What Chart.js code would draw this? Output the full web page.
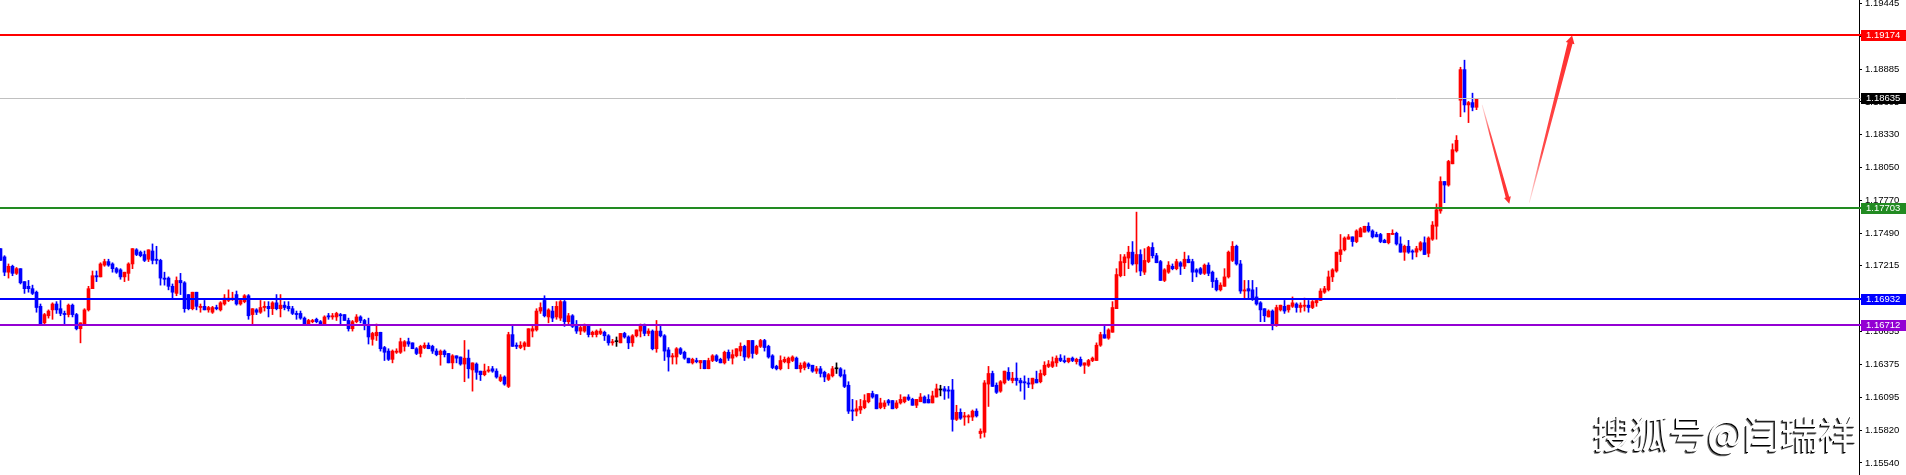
<!DOCTYPE html>
<html><head><meta charset="utf-8">
<script src="https://cdn.jsdelivr.net/npm/chart.js@4.4.0/dist/chart.umd.min.js"></script>
<style>
html,body{margin:0;padding:0;background:#fff;width:1906px;height:475px;overflow:hidden;}
#wrap{position:relative;width:1906px;height:475px;}
canvas{display:block;}
#wm{position:absolute;left:1593px;top:413px;font-family:"Noto Sans CJK SC";font-size:38px;line-height:1;color:#fff;white-space:nowrap;
text-shadow:-1px 1px 0 #000,-2px 2px 0 rgba(0,0,0,0.55);}
</style></head><body>
<div id="wrap"><canvas id="c" width="1906" height="475"></canvas><div id="wm">搜狐号@闫瑞祥</div></div>
<script>
// EURUSD candles (oldest -> newest)
const opens = [
1.1736,1.1729,1.1716,1.1721,1.1715,1.1719,1.1708,1.1704,1.1702,1.1699,
1.1687,1.1673,1.1679,1.1684,1.1689,1.1685,1.1681,1.1680,1.1688,1.1680,
1.1668,1.1672,1.1684,1.1702,1.1713,1.1712,1.1722,1.1725,1.1723,1.1719,
1.1718,1.1712,1.1715,1.1723,1.1735,1.1733,1.1731,1.1727,1.1734,1.1727,
1.1726,1.1711,1.1711,1.1704,1.1698,1.1709,1.1707,1.1697,1.1685,1.1699,
1.1686,1.1687,1.1684,1.1682,1.1686,1.1684,1.1689,1.1692,1.1693,1.1697,
1.1689,1.1691,1.1696,1.1680,1.1684,1.1682,1.1686,1.1687,1.1685,1.1690,
1.1685,1.1688,1.1687,1.1685,1.1681,1.1681,1.1677,1.1671,1.1674,1.1676,
1.1674,1.1672,1.1679,1.1678,1.1678,1.1680,1.1680,1.1675,1.1668,1.1674,
1.1678,1.1675,1.1671,1.1659,1.1662,1.1665,1.1652,1.1649,1.1642,1.1648,
1.1648,1.1653,1.1657,1.1656,1.1651,1.1647,1.1652,1.1654,1.1653,1.1649,
1.1646,1.1649,1.1647,1.1639,1.1645,1.1644,1.1638,1.1643,1.1633,1.1638,
1.1632,1.1629,1.1632,1.1634,1.1632,1.1624,1.1627,1.1619,1.1663,1.1654,
1.1652,1.1653,1.1653,1.1666,1.1667,1.1683,1.1692,1.1678,1.1683,1.1678,
1.1677,1.1691,1.1674,1.1679,1.1670,1.1666,1.1666,1.1670,1.1663,1.1663,
1.1664,1.1665,1.1662,1.1656,1.1657,1.1656,1.1664,1.1661,1.1656,1.1662,
1.1666,1.1670,1.1664,1.1666,1.1651,1.1666,1.1662,1.1650,1.1644,1.1644,
1.1651,1.1648,1.1643,1.1639,1.1641,1.1639,1.1641,1.1634,1.1641,1.1645,
1.1642,1.1639,1.1648,1.1643,1.1645,1.1649,1.1653,1.1644,1.1658,1.1647,
1.1653,1.1658,1.1653,1.1645,1.1636,1.1634,1.1640,1.1639,1.1641,1.1643,
1.1634,1.1635,1.1638,1.1637,1.1632,1.1634,1.1631,1.1625,1.1628,1.1634,
1.1634,1.1629,1.1620,1.1599,1.1598,1.1599,1.1601,1.1606,1.1613,1.1612,
1.1601,1.1602,1.1607,1.1607,1.1601,1.1605,1.1606,1.1610,1.1608,1.1603,
1.1606,1.1610,1.1608,1.1605,1.1610,1.1616,1.1617,1.1616,1.1616,1.1591,
1.1597,1.1593,1.1593,1.1593,1.1598,1.1579,1.1580,1.1621,1.1630,1.1620,
1.1615,1.1622,1.1631,1.1624,1.1626,1.1624,1.1623,1.1622,1.1621,1.1625,
1.1623,1.1629,1.1636,1.1636,1.1639,1.1643,1.1641,1.1640,1.1643,1.1640,
1.1642,1.1637,1.1637,1.1641,1.1641,1.1654,1.1663,1.1660,1.1665,1.1685,
1.1713,1.1724,1.1728,1.1733,1.1723,1.1731,1.1716,1.1725,1.1737,1.1730,
1.1725,1.1709,1.1716,1.1721,1.1719,1.1724,1.1721,1.1727,1.1725,1.1718,
1.1719,1.1715,1.1722,1.1716,1.1709,1.1701,1.1704,1.1712,1.1726,1.1738,
1.1723,1.1700,1.1702,1.1701,1.1695,1.1690,1.1685,1.1678,1.1683,1.1671,
1.1684,1.1687,1.1684,1.1687,1.1689,1.1686,1.1687,1.1688,1.1686,1.1690,
1.1692,1.1699,1.1701,1.1712,1.1717,1.1731,1.1735,1.1744,1.1746,1.1742,
1.1746,1.1750,1.1755,1.1751,1.1748,1.1748,1.1743,1.1741,1.1748,1.1749,
1.1740,1.1733,1.1738,1.1734,1.1733,1.1735,1.1741,1.1732,1.1744,1.1755,
1.1768,1.1793,1.1790,1.1808,1.1819,1.1862,1.1888,1.1858,1.1860,1.1856
];
const highs = [
1.1736,1.1730,1.1723,1.1722,1.1720,1.1719,1.1708,1.1709,1.1705,1.1700,
1.1689,1.1681,1.1684,1.1690,1.1691,1.1692,1.1683,1.1689,1.1689,1.1681,
1.1673,1.1685,1.1704,1.1717,1.1717,1.1724,1.1727,1.1727,1.1724,1.1720,
1.1719,1.1716,1.1724,1.1736,1.1736,1.1734,1.1734,1.1735,1.1740,1.1738,
1.1727,1.1716,1.1712,1.1706,1.1712,1.1715,1.1708,1.1697,1.1699,1.1699,
1.1689,1.1692,1.1687,1.1687,1.1688,1.1691,1.1697,1.1701,1.1699,1.1700,
1.1692,1.1697,1.1697,1.1685,1.1685,1.1692,1.1691,1.1691,1.1691,1.1697,
1.1697,1.1691,1.1691,1.1687,1.1683,1.1683,1.1678,1.1676,1.1676,1.1677,
1.1675,1.1679,1.1681,1.1681,1.1682,1.1681,1.1680,1.1677,1.1675,1.1680,
1.1679,1.1676,1.1677,1.1665,1.1672,1.1665,1.1653,1.1651,1.1650,1.1651,
1.1660,1.1658,1.1660,1.1656,1.1652,1.1654,1.1656,1.1656,1.1654,1.1651,
1.1650,1.1650,1.1647,1.1646,1.1645,1.1644,1.1658,1.1650,1.1639,1.1639,
1.1632,1.1638,1.1636,1.1636,1.1634,1.1629,1.1628,1.1665,1.1670,1.1656,
1.1657,1.1657,1.1668,1.1670,1.1685,1.1690,1.1696,1.1685,1.1687,1.1691,
1.1692,1.1692,1.1681,1.1680,1.1675,1.1670,1.1672,1.1670,1.1666,1.1667,
1.1668,1.1666,1.1663,1.1659,1.1661,1.1664,1.1665,1.1662,1.1663,1.1667,
1.1672,1.1672,1.1668,1.1667,1.1675,1.1670,1.1663,1.1652,1.1647,1.1652,
1.1652,1.1649,1.1643,1.1643,1.1643,1.1641,1.1641,1.1643,1.1646,1.1646,
1.1643,1.1649,1.1650,1.1650,1.1651,1.1656,1.1654,1.1658,1.1658,1.1654,
1.1659,1.1659,1.1654,1.1646,1.1637,1.1645,1.1644,1.1644,1.1645,1.1644,
1.1639,1.1640,1.1639,1.1637,1.1636,1.1636,1.1632,1.1630,1.1636,1.1639,
1.1635,1.1633,1.1623,1.1608,1.1607,1.1608,1.1612,1.1613,1.1615,1.1612,
1.1609,1.1607,1.1608,1.1607,1.1607,1.1612,1.1610,1.1612,1.1609,1.1608,
1.1613,1.1611,1.1612,1.1615,1.1621,1.1620,1.1619,1.1619,1.1625,1.1603,
1.1600,1.1597,1.1595,1.1599,1.1600,1.1583,1.1624,1.1636,1.1632,1.1622,
1.1624,1.1632,1.1635,1.1631,1.1639,1.1626,1.1628,1.1626,1.1626,1.1632,
1.1633,1.1640,1.1641,1.1644,1.1645,1.1646,1.1645,1.1643,1.1644,1.1643,
1.1644,1.1639,1.1642,1.1644,1.1656,1.1665,1.1670,1.1668,1.1691,1.1719,
1.1731,1.1731,1.1738,1.1742,1.1767,1.1735,1.1736,1.1738,1.1741,1.1732,
1.1726,1.1719,1.1725,1.1723,1.1727,1.1725,1.1733,1.1730,1.1727,1.1719,
1.1720,1.1723,1.1724,1.1717,1.1711,1.1707,1.1719,1.1734,1.1742,1.1739,
1.1726,1.1709,1.1709,1.1709,1.1703,1.1691,1.1685,1.1684,1.1684,1.1688,
1.1688,1.1692,1.1688,1.1695,1.1690,1.1690,1.1694,1.1692,1.1692,1.1693,
1.1702,1.1704,1.1717,1.1719,1.1733,1.1748,1.1746,1.1748,1.1746,1.1752,
1.1754,1.1755,1.1758,1.1752,1.1750,1.1749,1.1744,1.1749,1.1752,1.1750,
1.1746,1.1739,1.1743,1.1735,1.1738,1.1742,1.1746,1.1746,1.1759,1.1774,
1.1797,1.1793,1.1811,1.1825,1.1832,1.1890,1.1896,1.1861,1.1868,1.1863
];
const lows = [
1.1726,1.1713,1.1711,1.1713,1.1714,1.1706,1.1698,1.1699,1.1697,1.1682,
1.1671,1.1671,1.1677,1.1676,1.1681,1.1679,1.1671,1.1678,1.1678,1.1667,
1.1656,1.1671,1.1683,1.1702,1.1708,1.1712,1.1721,1.1721,1.1716,1.1715,
1.1710,1.1708,1.1709,1.1719,1.1730,1.1729,1.1725,1.1725,1.1723,1.1723,
1.1705,1.1705,1.1701,1.1694,1.1696,1.1697,1.1682,1.1684,1.1684,1.1684,
1.1682,1.1684,1.1682,1.1681,1.1684,1.1683,1.1688,1.1691,1.1692,1.1688,
1.1688,1.1690,1.1676,1.1671,1.1680,1.1681,1.1683,1.1678,1.1680,1.1684,
1.1678,1.1684,1.1683,1.1680,1.1676,1.1676,1.1671,1.1671,1.1673,1.1673,
1.1671,1.1671,1.1676,1.1676,1.1675,1.1672,1.1675,1.1666,1.1666,1.1673,
1.1673,1.1667,1.1655,1.1654,1.1658,1.1649,1.1641,1.1641,1.1639,1.1647,
1.1647,1.1649,1.1653,1.1651,1.1646,1.1644,1.1651,1.1651,1.1647,1.1645,
1.1637,1.1644,1.1639,1.1634,1.1639,1.1637,1.1623,1.1626,1.1615,1.1625,
1.1624,1.1628,1.1631,1.1631,1.1626,1.1623,1.1620,1.1618,1.1653,1.1651,
1.1651,1.1650,1.1653,1.1661,1.1666,1.1681,1.1678,1.1673,1.1674,1.1676,
1.1675,1.1670,1.1671,1.1669,1.1664,1.1663,1.1665,1.1661,1.1661,1.1661,
1.1663,1.1658,1.1654,1.1654,1.1653,1.1656,1.1660,1.1651,1.1653,1.1661,
1.1661,1.1662,1.1662,1.1650,1.1648,1.1661,1.1641,1.1632,1.1638,1.1638,
1.1646,1.1642,1.1639,1.1638,1.1639,1.1634,1.1634,1.1634,1.1640,1.1640,
1.1639,1.1638,1.1641,1.1638,1.1644,1.1645,1.1641,1.1643,1.1643,1.1646,
1.1652,1.1649,1.1643,1.1634,1.1633,1.1633,1.1639,1.1634,1.1640,1.1634,
1.1631,1.1633,1.1634,1.1631,1.1630,1.1627,1.1623,1.1624,1.1627,1.1630,
1.1627,1.1618,1.1596,1.1590,1.1594,1.1596,1.1600,1.1605,1.1609,1.1600,
1.1600,1.1600,1.1603,1.1600,1.1600,1.1604,1.1605,1.1607,1.1603,1.1601,
1.1606,1.1605,1.1605,1.1605,1.1610,1.1611,1.1608,1.1609,1.1581,1.1590,
1.1591,1.1586,1.1588,1.1590,1.1593,1.1575,1.1576,1.1602,1.1619,1.1613,
1.1614,1.1621,1.1624,1.1622,1.1620,1.1615,1.1608,1.1618,1.1617,1.1622,
1.1622,1.1628,1.1635,1.1635,1.1636,1.1640,1.1639,1.1639,1.1640,1.1638,
1.1636,1.1630,1.1636,1.1640,1.1641,1.1653,1.1660,1.1659,1.1665,1.1685,
1.1712,1.1713,1.1719,1.1722,1.1716,1.1713,1.1714,1.1724,1.1728,1.1724,
1.1709,1.1708,1.1715,1.1718,1.1718,1.1714,1.1719,1.1724,1.1708,1.1712,
1.1714,1.1714,1.1713,1.1703,1.1700,1.1700,1.1704,1.1711,1.1725,1.1722,
1.1698,1.1693,1.1694,1.1692,1.1688,1.1674,1.1674,1.1678,1.1667,1.1670,
1.1683,1.1681,1.1682,1.1686,1.1682,1.1682,1.1683,1.1682,1.1685,1.1687,
1.1692,1.1698,1.1700,1.1708,1.1716,1.1725,1.1734,1.1744,1.1738,1.1741,
1.1746,1.1750,1.1750,1.1745,1.1746,1.1741,1.1741,1.1740,1.1748,1.1739,
1.1733,1.1726,1.1732,1.1727,1.1729,1.1734,1.1731,1.1729,1.1743,1.1744,
1.1766,1.1775,1.1789,1.1808,1.1818,1.1848,1.1852,1.1843,1.1853,1.1854
];
const closes = [
1.1726,1.1716,1.1721,1.1715,1.1719,1.1707,1.1702,1.1702,1.1698,1.1686,
1.1672,1.1680,1.1683,1.1689,1.1684,1.1681,1.1680,1.1688,1.1680,1.1668,
1.1673,1.1684,1.1702,1.1713,1.1712,1.1723,1.1725,1.1722,1.1719,1.1716,
1.1712,1.1716,1.1723,1.1736,1.1731,1.1730,1.1726,1.1735,1.1726,1.1726,
1.1711,1.1710,1.1704,1.1699,1.1709,1.1707,1.1685,1.1685,1.1699,1.1687,
1.1687,1.1684,1.1686,1.1686,1.1685,1.1690,1.1694,1.1694,1.1694,1.1689,
1.1692,1.1696,1.1679,1.1685,1.1682,1.1686,1.1687,1.1685,1.1690,1.1685,
1.1688,1.1686,1.1685,1.1681,1.1680,1.1677,1.1671,1.1675,1.1675,1.1674,
1.1672,1.1678,1.1678,1.1679,1.1681,1.1679,1.1675,1.1668,1.1674,1.1678,
1.1675,1.1671,1.1661,1.1664,1.1665,1.1651,1.1648,1.1642,1.1649,1.1649,
1.1657,1.1657,1.1655,1.1651,1.1647,1.1653,1.1654,1.1651,1.1649,1.1646,
1.1649,1.1646,1.1639,1.1645,1.1643,1.1638,1.1643,1.1634,1.1639,1.1631,
1.1629,1.1632,1.1633,1.1632,1.1627,1.1627,1.1621,1.1663,1.1653,1.1653,
1.1654,1.1656,1.1668,1.1668,1.1683,1.1686,1.1679,1.1684,1.1677,1.1687,
1.1691,1.1674,1.1679,1.1670,1.1666,1.1669,1.1670,1.1663,1.1665,1.1666,
1.1666,1.1662,1.1656,1.1657,1.1657,1.1664,1.1661,1.1656,1.1662,1.1667,
1.1670,1.1664,1.1666,1.1651,1.1666,1.1662,1.1649,1.1644,1.1645,1.1651,
1.1647,1.1643,1.1639,1.1642,1.1640,1.1641,1.1634,1.1641,1.1645,1.1641,
1.1639,1.1648,1.1643,1.1646,1.1651,1.1653,1.1644,1.1658,1.1647,1.1653,
1.1658,1.1652,1.1644,1.1635,1.1634,1.1641,1.1642,1.1643,1.1644,1.1634,
1.1637,1.1639,1.1636,1.1632,1.1634,1.1630,1.1627,1.1629,1.1634,1.1634,
1.1628,1.1619,1.1598,1.1598,1.1600,1.1602,1.1607,1.1613,1.1610,1.1600,
1.1605,1.1605,1.1605,1.1600,1.1605,1.1608,1.1610,1.1608,1.1603,1.1608,
1.1610,1.1605,1.1605,1.1611,1.1617,1.1616,1.1615,1.1615,1.1591,1.1597,
1.1592,1.1594,1.1594,1.1598,1.1594,1.1581,1.1622,1.1630,1.1619,1.1614,
1.1623,1.1632,1.1625,1.1626,1.1624,1.1622,1.1622,1.1621,1.1626,1.1622,
1.1630,1.1637,1.1638,1.1640,1.1643,1.1641,1.1640,1.1643,1.1641,1.1642,
1.1637,1.1639,1.1641,1.1643,1.1654,1.1663,1.1660,1.1667,1.1686,1.1714,
1.1725,1.1729,1.1733,1.1723,1.1731,1.1717,1.1726,1.1737,1.1730,1.1724,
1.1709,1.1718,1.1722,1.1719,1.1725,1.1721,1.1727,1.1724,1.1716,1.1716,
1.1715,1.1722,1.1715,1.1708,1.1701,1.1705,1.1712,1.1733,1.1738,1.1723,
1.1700,1.1701,1.1700,1.1693,1.1689,1.1684,1.1679,1.1683,1.1671,1.1686,
1.1688,1.1683,1.1688,1.1690,1.1686,1.1688,1.1688,1.1686,1.1691,1.1692,
1.1700,1.1702,1.1712,1.1718,1.1733,1.1735,1.1745,1.1746,1.1742,1.1751,
1.1753,1.1755,1.1751,1.1746,1.1746,1.1742,1.1741,1.1749,1.1749,1.1740,
1.1733,1.1738,1.1733,1.1733,1.1736,1.1741,1.1731,1.1745,1.1756,1.1769,
1.1793,1.1790,1.1810,1.1820,1.1828,1.1888,1.1858,1.1860,1.1856,1.1863
];
const tickValues = [1.19445,1.19165,1.18885,1.18605,1.18330,1.18050,1.17770,1.17490,1.17215,1.16935,1.16655,1.16375,1.16095,1.15820,1.15540];
const levelValues = [1.19174, 1.18635, 1.17703, 1.16932, 1.16712];
const levelColors = ['#FF0000', '#C0C0C0', '#228B22', '#0000FF', '#9400D3'];
const levelBoxColors = ['#FF0000', '#000000', '#228B22', '#0000FF', '#9400D3'];
const levelWidths = [2, 1, 2, 2, 2];
// forecast arrows: [candle index, price]
const arrowStarts = [[370.4, 1.1858], [382.2, 1.1775]];
const arrowEnds = [[377.2, 1.1774], [392.9, 1.1917]];

const idx = opens.map((_, i) => i);
const candleColor = idx.map(i => closes[i] > opens[i] ? '#FF0000' : (closes[i] < opens[i] ? '#0000FF' : '#000000'));
const wickData = idx.map(i => ({x: i, y: [Math.min(lows[i], opens[i], closes[i]), Math.max(highs[i], opens[i], closes[i])]}));
const bodyData = idx.map(i => ({x: i, y: [opens[i], closes[i]]}));

const AXIS_FONT = {family: 'Liberation Sans', size: 9.5};

function drawArrow(ctx, x0, y0, x1, y1, w1, headW, headLen) {
  const dx = x1 - x0, dy = y1 - y0, len = Math.hypot(dx, dy);
  const ux = dx / len, uy = dy / len, nx = -uy, ny = ux;
  const w0 = 0.4;
  const bx = x1 - ux * headLen, by = y1 - uy * headLen;
  const g = ctx.createLinearGradient(x0, y0, x1, y1);
  g.addColorStop(0, 'rgba(255,70,70,0.15)');
  g.addColorStop(0.3, 'rgba(255,55,55,0.9)');
  g.addColorStop(1, 'rgb(255,45,45)');
  ctx.fillStyle = g;
  ctx.beginPath();
  ctx.moveTo(x0 + nx * w0, y0 + ny * w0);
  ctx.lineTo(bx + nx * w1, by + ny * w1);
  ctx.lineTo(bx + nx * headW, by + ny * headW);
  ctx.lineTo(x1, y1);
  ctx.lineTo(bx - nx * headW, by - ny * headW);
  ctx.lineTo(bx - nx * w1, by - ny * w1);
  ctx.lineTo(x0 - nx * w0, y0 - ny * w0);
  ctx.closePath();
  ctx.fill();
}

const overlay = {
  id: 'overlay',
  afterDatasetsDraw(chart) {
    const {ctx, chartArea, scales} = chart;
    const ys = scales.y, xs = scales.x;
    ctx.save();
    levelValues.forEach((v, k) => {
      let py = ys.getPixelForValue(v);
      py = levelWidths[k] % 2 ? Math.floor(py) + 0.5 : Math.round(py);
      ctx.strokeStyle = levelColors[k];
      ctx.lineWidth = levelWidths[k];
      ctx.beginPath();
      ctx.moveTo(chartArea.left, py);
      ctx.lineTo(chartArea.right + 3, py);
      ctx.stroke();
    });
    drawArrow(ctx, xs.getPixelForValue(arrowStarts[0][0]), ys.getPixelForValue(arrowStarts[0][1]),
      xs.getPixelForValue(arrowEnds[0][0]), ys.getPixelForValue(arrowEnds[0][1]), 1.8, 3.5, 7);
    drawArrow(ctx, xs.getPixelForValue(arrowStarts[1][0]), ys.getPixelForValue(arrowStarts[1][1]),
      xs.getPixelForValue(arrowEnds[1][0]), ys.getPixelForValue(arrowEnds[1][1]), 2.5, 4.5, 8);
    ctx.restore();
  },
  afterDraw(chart) {
    const {ctx, chartArea, scales} = chart;
    const ys = scales.y;
    ctx.save();
    ctx.font = AXIS_FONT.size + 'px "' + AXIS_FONT.family + '"';
    ctx.textBaseline = 'middle';
    ctx.textAlign = 'left';
    levelValues.forEach((v, k) => {
      const py = Math.round(ys.getPixelForValue(v));
      ctx.fillStyle = levelBoxColors[k];
      ctx.fillRect(chartArea.right + 2, py - 5, chart.width - chartArea.right - 2, 11);
      ctx.fillStyle = '#FFFFFF';
      ctx.fillText(v.toFixed(5), chartArea.right + 7, py + 0.5);
    });
    ctx.restore();
  }
};

new Chart(document.getElementById('c'), {
  type: 'bar',
  data: {
    datasets: [
      {label: 'body', data: bodyData, backgroundColor: candleColor, barThickness: 3, grouped: false, minBarLength: 1, borderWidth: 0, order: 1},
      {label: 'wick', data: wickData, backgroundColor: candleColor, barThickness: 1, grouped: false, borderWidth: 0, order: 2}
    ]
  },
  plugins: [overlay],
  options: {
    responsive: false,
    animation: false,
    events: [],
    layout: {padding: 0},
    plugins: {legend: {display: false}, tooltip: {enabled: false}},
    scales: {
      x: {type: 'linear', min: -0.125, max: 464.625, offset: false, display: false},
      y: {
        position: 'right',
        min: 1.15438, max: 1.19471,
        afterBuildTicks: s => { s.ticks = tickValues.map(v => ({value: v})); },
        afterFit: s => { s.width = 47; s.paddingTop = 0; s.paddingBottom = 0; },
        ticks: {
          callback: v => Number(v).toFixed(5),
          font: AXIS_FONT, color: '#000000', padding: 3, autoSkip: false, maxRotation: 0
        },
        grid: {display: true, drawOnChartArea: false, drawTicks: true, tickLength: 3, color: '#000000'},
        border: {display: true, color: '#000000', width: 1}
      }
    }
  }
});
</script>
</body></html>
